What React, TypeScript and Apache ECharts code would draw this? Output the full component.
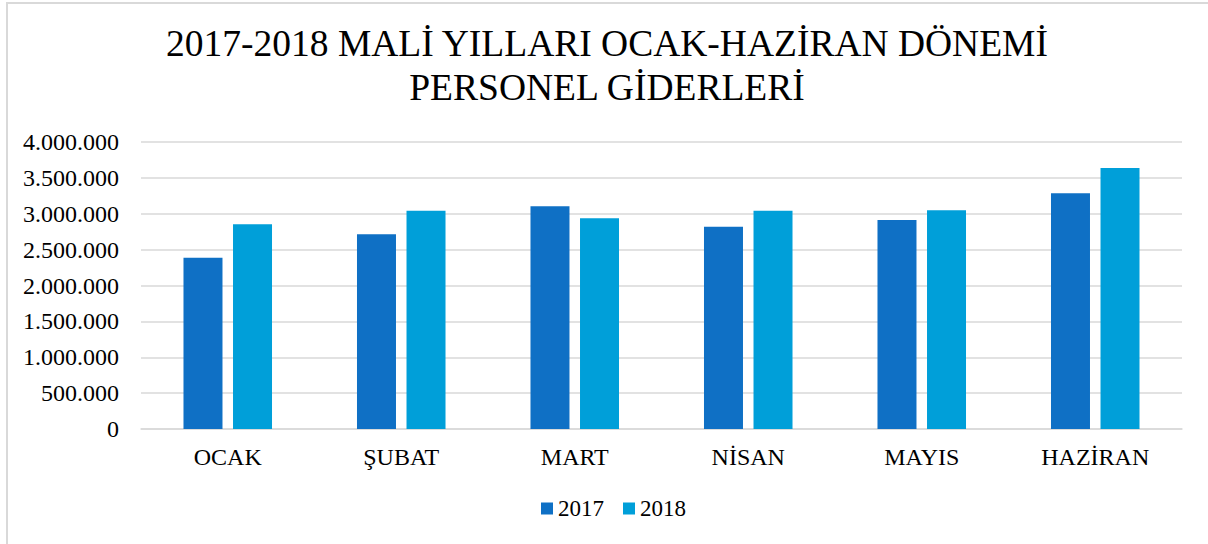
import React, { useEffect, useRef } from "react";
import * as echarts from "echarts";

const titleLines = ["2017-2018 MALİ YILLARI OCAK-HAZİRAN DÖNEMİ", "PERSONEL GİDERLERİ"];
const categories = ["OCAK", "ŞUBAT", "MART", "NİSAN", "MAYIS", "HAZİRAN"];
const seriesNames = ["2017", "2018"];
const values2017 = [2387000, 2713000, 3103000, 2820000, 2913000, 3285000];
const values2018 = [2853000, 3043000, 2936000, 3043000, 3048000, 3638000];
const colors = ["#0f70c5", "#009fd9"];

const SERIF = "'Liberation Serif', 'Times New Roman', serif";

function fmt(v: number): string {
  return String(Math.round(v)).replace(/\B(?=(\d{3})+(?!\d))/g, ".");
}

export default function App() {
  const ref = useRef<HTMLDivElement>(null);
  useEffect(() => {
    if (!ref.current) return;
    const chart = echarts.init(ref.current, null, { renderer: "svg" });
    chart.setOption({
      animation: false,
      backgroundColor: "#ffffff",
      graphic: [
        {
          type: "rect",
          shape: { x: 7, y: 3, width: 1260, height: 600 },
          style: { fill: "none", stroke: "#d9d9d9", lineWidth: 2 },
          silent: true,
          z: -1,
        },
        {
          type: "text",
          x: 607,
          y: 21,
          style: {
            text: titleLines.join("\n"),
            font: `37.5px ${SERIF}`,
            fill: "#000000",
            textAlign: "center",
            textVerticalAlign: "top",
            lineHeight: 44,
          },
        },
      ],
      grid: { left: 141, right: 26, top: 142, bottom: 115 },
      legend: {
        data: seriesNames,
        bottom: 19,
        left: 536,
        icon: "rect",
        itemWidth: 12,
        itemHeight: 12,
        itemGap: 19,
        textStyle: { fontFamily: SERIF, fontSize: 23, color: "#000000" },
      },
      xAxis: {
        type: "category",
        data: categories,
        axisLine: { show: true, lineStyle: { color: "#d9d9d9", width: 1.5 } },
        axisTick: { show: false },
        axisLabel: { fontFamily: SERIF, fontSize: 24, color: "#000000", margin: 16 },
      },
      yAxis: {
        type: "value",
        min: 0,
        max: 4000000,
        interval: 500000,
        axisLine: { show: false },
        axisTick: { show: false },
        splitLine: { lineStyle: { color: "#d9d9d9", width: 1.5 } },
        axisLabel: {
          fontFamily: SERIF,
          fontSize: 24,
          color: "#000000",
          margin: 22,
          formatter: (v: number) => fmt(v),
        },
      },
      series: [
        {
          name: seriesNames[0],
          type: "bar",
          data: values2017,
          barWidth: 39,
          barGap: "27%",
          itemStyle: { color: colors[0] },
        },
        {
          name: seriesNames[1],
          type: "bar",
          data: values2018,
          barWidth: 39,
          barGap: "27%",
          itemStyle: { color: colors[1] },
        },
      ],
    });
    return () => chart.dispose();
  }, []);
  return (
    <div
      ref={ref}
      style={{ position: "fixed", left: 0, top: 0, width: 1208, height: 544 }}
    />
  );
}
